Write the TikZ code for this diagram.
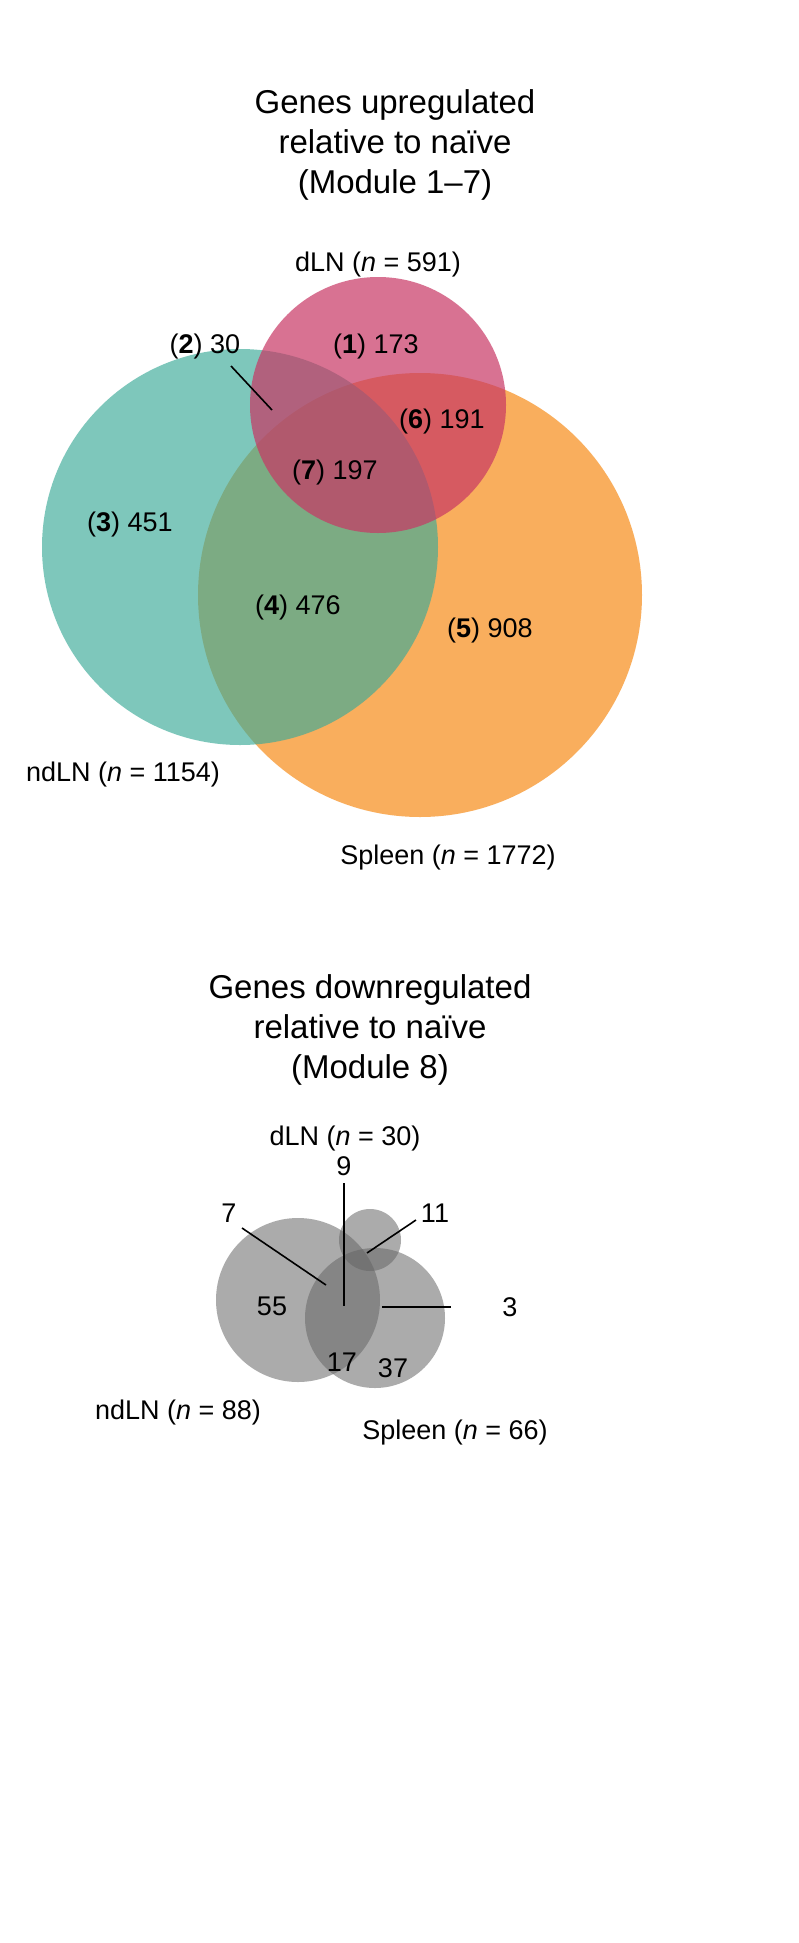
\documentclass[tikz,border=0pt]{standalone}
\usepackage{fontspec}
\setmainfont{Liberation Sans}
\begin{document}
\begin{tikzpicture}[x=0.5pt,y=-0.5pt,
  lab/.style={font=\fontsize{13.5}{16}\selectfont, inner sep=0},
  ttl/.style={font=\fontsize{16.5}{20}\selectfont, align=center, inner sep=0},
  pt/.style={inner sep=0,minimum size=0}]
\useasboundingbox (0,0) rectangle (798,1943);
\fill[white] (0,0) rectangle (798,1943);
% upper
\node[ttl] (t1) at (395,145) {Genes upregulated\\relative to naïve\\(Module 1–7)};
\fill[fill={rgb,255:red,247;green,148;blue,40}, fill opacity=0.75] (420,595) circle (222);
\fill[fill={rgb,255:red,58;green,170;blue,152}, fill opacity=0.65] (240,547) circle (198);
\fill[fill={rgb,255:red,200;green,55;blue,100}, fill opacity=0.7] (378,405) circle (128);
\node[lab] (hd) at (378,265) {dLN (\textit{n} = 591)};
\node[lab] (hn) at (123,775) {ndLN (\textit{n} = 1154)};
\node[lab] (hs) at (448,858) {Spleen (\textit{n} = 1772)};
\node[lab] (r1) at (376,347) {(\textbf{1}) 173};
\node[lab] (r2) at (205,347) {(\textbf{2}) 30};
\node[lab] (r6) at (442,422) {(\textbf{6}) 191};
\node[lab] (r7) at (335,473) {(\textbf{7}) 197};
\node[lab] (r3) at (130,525) {(\textbf{3}) 451};
\node[lab] (r4) at (298,608) {(\textbf{4}) 476};
\node[lab] (r5) at (490,631) {(\textbf{5}) 908};
\coordinate (c2) at (272,410);
\draw[line width=0.8pt] (231,366) -- (c2);
% lower
\node[ttl] (t2) at (370,1030) {Genes downregulated\\relative to naïve\\(Module 8)};
\fill[gray!80!black, fill opacity=0.55] (298,1300) circle (82);
\fill[gray!80!black, fill opacity=0.55] (375,1318) circle (70);
\fill[gray!80!black, fill opacity=0.55] (370,1240) circle (31);
\node[lab] (ld) at (345,1138) {dLN (\textit{n} = 30)};
\node[lab] (ln) at (178,1412) {ndLN (\textit{n} = 88)};
\node[lab] (ls) at (455,1432) {Spleen (\textit{n} = 66)};
\node[lab] (n55) at (272,1306) {55};
\node[lab] (n17) at (342,1362) {17};
\node[lab] (n37) at (393,1368) {37};
\node[lab] (n7) at (229,1213) {7};
\node[lab] (n9) at (344,1166) {9};
\node[lab] (n11) at (435,1213) {11};
\node[lab] (n3) at (510,1307) {3};
\coordinate (c7) at (326,1285);
\coordinate (c9) at (344,1306);
\coordinate (c11) at (367,1253);
\coordinate (c3a) at (382,1307);
\coordinate (c3b) at (451,1307);
\draw[line width=0.8pt] (242,1228) -- (c7);
\draw[line width=0.8pt] (344,1183) -- (c9);
\draw[line width=0.8pt] (416,1220) -- (c11);
\draw[line width=0.8pt] (c3a) -- (c3b);
\end{tikzpicture}
\end{document}
